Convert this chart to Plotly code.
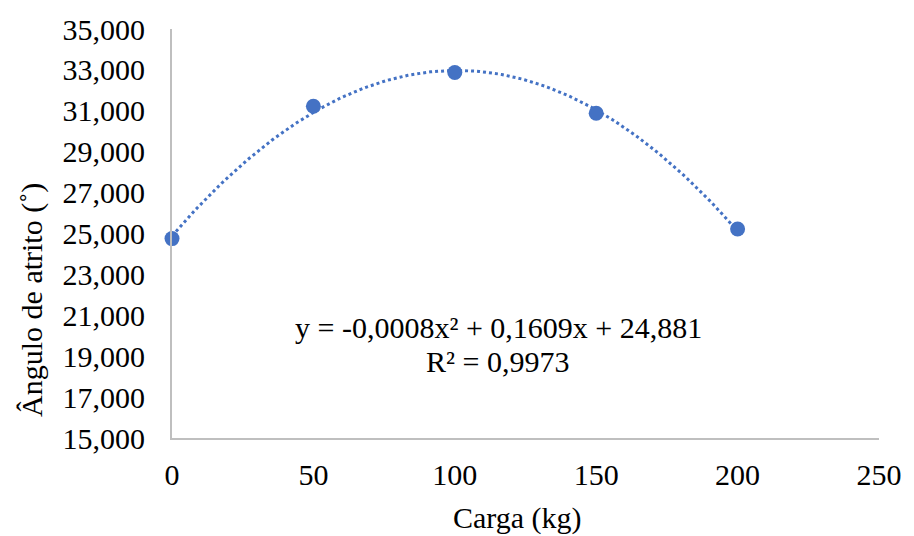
import numpy as np
import plotly.graph_objects as go

carga = [0, 50, 100, 150, 200]
angulo = [24.75, 31.22, 32.87, 30.88, 25.22]
y_ticks = [15, 17, 19, 21, 23, 25, 27, 29, 31, 33, 35]
x_ticks = [0, 50, 100, 150, 200, 250]
equation = "y = -0,0008x² + 0,1609x + 24,881"
r2_text = "R² = 0,9973"

coef = np.polyfit(carga, angulo, 2)
xs = np.linspace(min(carga), max(carga), 200)
ys = np.polyval(coef, xs)

FONT = "'Times New Roman', 'Liberation Serif', 'DejaVu Serif', serif"
BLUE = "#4472C4"
FS = 30

fig = go.Figure()
fig.add_trace(go.Scatter(x=xs, y=ys, mode="lines",
                         line=dict(color=BLUE, width=3, dash="dot"),
                         hoverinfo="skip", showlegend=False, cliponaxis=False))
fig.add_trace(go.Scatter(x=carga, y=angulo, mode="markers",
                         marker=dict(color=BLUE, size=15),
                         showlegend=False, cliponaxis=False))

fig.update_layout(
    width=914, height=536,
    margin=dict(l=172, r=27, t=25, b=98),
    paper_bgcolor="white", plot_bgcolor="white",
    separators=",.",
    font=dict(family=FONT, size=FS, color="#000000"),
    xaxis=dict(range=[0, 250], tickvals=x_ticks, showgrid=False, zeroline=False,
               showline=True, linecolor="#BFBFBF", linewidth=2,
               ticks="", ticklabelstandoff=9,
               tickfont=dict(family=FONT, size=FS)),
    yaxis=dict(range=[15, 35], tickvals=y_ticks, tickformat=".3f",
               showgrid=False, zeroline=False,
               showline=True, linecolor="#BFBFBF", linewidth=2,
               ticks="", ticklabelstandoff=19,
               tickfont=dict(family=FONT, size=FS)),
    annotations=[
        dict(text=equation, xref="paper", yref="paper",
             x=(502 - 172) / 715, y=(438 - 326) / 413,
             showarrow=False, xanchor="center", yanchor="middle",
             font=dict(family=FONT, size=FS)),
        dict(text=r2_text, xref="paper", yref="paper",
             x=(501 - 172) / 715, y=(438 - 361) / 413,
             showarrow=False, xanchor="center", yanchor="middle",
             font=dict(family=FONT, size=FS)),
        dict(text="Carga (kg)", xref="paper", yref="paper",
             x=(521 - 172) / 715, y=(438 - 519) / 413,
             showarrow=False, xanchor="center", yanchor="middle",
             font=dict(family=FONT, size=FS)),
        dict(text="Ângulo de atrito (˚)", xref="paper", yref="paper",
             x=(31 - 172) / 715, y=(438 - 299) / 413, textangle=-90,
             showarrow=False, xanchor="center", yanchor="middle",
             font=dict(family=FONT, size=FS)),
    ],
)

fig.write_html("out.html")
